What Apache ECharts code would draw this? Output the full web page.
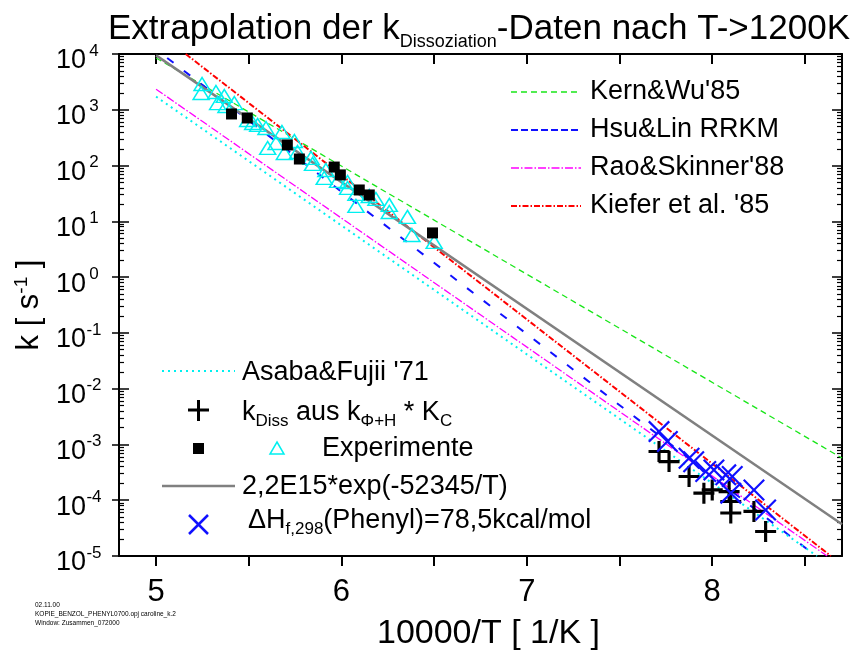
<!DOCTYPE html>
<html>
<head>
<meta charset="utf-8">
<script src="https://cdn.jsdelivr.net/npm/echarts@6/dist/echarts.min.js"></script>
<style>
  html, body { margin: 0; padding: 0; background: #fff; }
  #chart { width: 860px; height: 657px; }
</style>
</head>
<body>
<div id="chart"></div>
<script>
// Axis ticks and labels
const xTickValues = [5, 5.5, 6, 6.5, 7, 7.5, 8, 8.5];
const xLabelValues = [5, 6, 7, 8];
const yDecades = [-5, -4, -3, -2, -1, 0, 1, 2, 3, 4];

// Arrhenius lines (10000/T, k in s^-1), straight on the log axis
const kernWu85 = [[5.0, 8500], [8.7, 5.7e-4]];
const hsuLinRRKM = [[5.06, 8500], [8.56, 1e-5]];
const raoSkinner88 = [[5.0, 2340], [8.62, 1e-5]];
const kiefer85 = [[5.16, 1e4], [8.64, 1e-5]];
const asabaFujii71 = [[5.0, 1720], [8.565, 1e-5]];
const fitLine = [[5.0, 9460], [8.7, 3.7e-5]];

// Experiments: open triangles
const expTriangles = [
  [5.248, 2900], [5.243, 2000], [5.323, 2080], [5.368, 1770], [5.332, 1320],
  [5.377, 1170], [5.422, 1320], [5.494, 656], [5.521, 579], [5.548, 535],
  [5.593, 472], [5.679, 400], [5.602, 207], [5.647, 254], [5.692, 168],
  [5.746, 276], [5.763, 175], [5.836, 137], [5.844, 107], [5.916, 83.4],
  [5.907, 60], [5.979, 53], [6.033, 50.8], [6.033, 39.7], [6.078, 31],
  [6.078, 18.9], [6.150, 28.5], [6.186, 25.2], [6.258, 19.7], [6.258, 14.7],
  [6.356, 12.0], [6.380, 5.7], [6.500, 4.28]
];
// Experiments: filled squares
const expSquares = [
  [5.407, 841], [5.492, 713], [5.708, 234], [5.773, 131], [5.961, 94],
  [5.994, 68], [6.096, 36.5], [6.150, 29.7], [6.491, 6.2]
];
// k_Diss from k_(Phi+H) * K_C
const kDissPlus = [
  [7.713, 7.46e-4], [7.767, 4.93e-4], [7.875, 2.66e-4], [7.955, 1.34e-4],
  [8.000, 1.53e-4], [8.091, 1.43e-4], [8.100, 9.5e-5], [8.100, 5.9e-5],
  [8.225, 6.3e-5], [8.288, 2.75e-5]
];
// dHf,298(Phenyl) = 78.5 kcal/mol
const phenylCross = [
  [7.713, 1.70e-3], [7.758, 1.13e-3], [7.875, 5.67e-4], [7.900, 4.9e-4],
  [7.965, 3.27e-4], [8.009, 3.5e-4], [8.073, 2.85e-4], [8.108, 2.66e-4],
  [8.100, 1.34e-4], [8.225, 1.53e-4], [8.288, 6.7e-5]
];

const FONT = '"Liberation Sans", Arial, sans-serif';
const PLUS_PATH = 'path://M0,8.5L8.5,8.5L8.5,0L11.5,0L11.5,8.5L20,8.5L20,11.5L11.5,11.5L11.5,20L8.5,20L8.5,11.5L0,11.5Z';
const CROSS_PATH = 'path://M0,1.4L1.4,0L10,8.6L18.6,0L20,1.4L11.4,10L20,18.6L18.6,20L10,11.4L1.4,20L0,18.6L8.6,10Z';

const minorValues = [];
yDecades.slice(0, -1).forEach(function (e) {
  for (let m = 2; m <= 9; m++) minorValues.push(m * Math.pow(10, e));
});
const decadeValues = yDecades.map(function (e) { return Math.pow(10, e); });

function logAxis(extra) {
  return Object.assign({
    type: 'log', logBase: 10, min: 1e-5, max: 1e4,
    splitLine: { show: false },
    axisLine: { show: false },
    axisLabel: { show: false },
    axisTick: { show: false }
  }, extra);
}

const lineColor = '#000';

const chart = echarts.init(document.getElementById('chart'), null, { renderer: 'canvas' });

function lineSeries(name, data, color, width, dash) {
  return {
    name: name, type: 'line', data: data, xAxisIndex: 0, yAxisIndex: 0,
    symbol: 'none', silent: true, clip: true, z: 2,
    lineStyle: { color: color, width: width, type: dash || 'solid', opacity: 1 }
  };
}

// Legend graphics
const legendTop = [
  { text: "Kern&Wu'85", color: '#19e619', dash: [6, 4], y: 92, w: 1.3 },
  { text: 'Hsu&Lin RRKM', color: '#1010ff', dash: [7, 3], y: 130, w: 2 },
  { text: "Rao&Skinner'88", color: '#ff00ff', dash: [8, 2, 1.5, 2], y: 168, w: 1.3 },
  { text: "Kiefer et al. '85", color: '#ff0000', dash: [6, 2, 1.5, 2], y: 206, w: 2 }
];

const graphics = [];
legendTop.forEach(function (e) {
  graphics.push({
    type: 'line', shape: { x1: 511, y1: e.y, x2: 581, y2: e.y },
    style: { stroke: e.color, lineWidth: e.w, lineDash: e.dash }, z: 10
  });
  graphics.push({
    type: 'text', x: 590, y: e.y,
    style: { text: e.text, font: '27px ' + FONT, fill: '#000', textVerticalAlign: 'middle' }, z: 10
  });
});

const subRich = {
  sub: { fontSize: 17, fontFamily: FONT, padding: [16, 0, 0, 0], fill: '#000' }
};

// Bottom-left legend
graphics.push(
  { type: 'line', shape: { x1: 162, y1: 371, x2: 235, y2: 371 },
    style: { stroke: '#00f0f0', lineWidth: 2, lineDash: [2, 4] }, z: 10 },
  { type: 'text', x: 242, y: 373,
    style: { text: "Asaba&Fujii '71", font: '27px ' + FONT, fill: '#000', textVerticalAlign: 'middle' }, z: 10 },
  // plus marker
  { type: 'rect', shape: { x: 188, y: 408.5, width: 21, height: 3 }, style: { fill: '#000' }, z: 10 },
  { type: 'rect', shape: { x: 197, y: 400, width: 3, height: 21 }, style: { fill: '#000' }, z: 10 },
  { type: 'text', x: 242, y: 413,
    style: {
      text: 'k{sub|Diss} aus k{sub|Φ+H} * K{sub|C}',
      font: '27px ' + FONT, fill: '#000', textVerticalAlign: 'middle', rich: subRich
    }, z: 10 },
  // square + triangle markers
  { type: 'rect', shape: { x: 193, y: 443, width: 11, height: 11 }, style: { fill: '#000' }, z: 10 },
  { type: 'polygon', shape: { points: [[277, 442], [284, 454], [270, 454]] },
    style: { fill: 'none', stroke: '#00f0f0', lineWidth: 1.5 }, z: 10 },
  { type: 'text', x: 322, y: 449,
    style: { text: 'Experimente', font: '27px ' + FONT, fill: '#000', textVerticalAlign: 'middle' }, z: 10 },
  { type: 'line', shape: { x1: 162, y1: 486, x2: 235, y2: 486 },
    style: { stroke: '#808080', lineWidth: 2.5 }, z: 10 },
  { type: 'text', x: 242, y: 487,
    style: { text: '2,2E15*exp(-52345/T)', font: '27px ' + FONT, fill: '#000', textVerticalAlign: 'middle' }, z: 10 },
  // cross marker
  { type: 'line', shape: { x1: 189, y1: 515, x2: 208, y2: 534 }, style: { stroke: '#1010ff', lineWidth: 2.5 }, z: 10 },
  { type: 'line', shape: { x1: 208, y1: 515, x2: 189, y2: 534 }, style: { stroke: '#1010ff', lineWidth: 2.5 }, z: 10 },
  { type: 'text', x: 248, y: 521,
    style: {
      text: 'ΔH{sub|f,298}(Phenyl)=78,5kcal/mol',
      font: '27px ' + FONT, fill: '#000', textVerticalAlign: 'middle', rich: subRich
    }, z: 10 },
  // file stamp
  { type: 'text', x: 35, y: 602,
    style: { text: '02.11.00', font: '6.5px ' + FONT, fill: '#000' }, z: 10 },
  { type: 'text', x: 35, y: 611,
    style: { text: 'KOPIE_BENZOL_PHENYL0700.opj caroline_k.2', font: '6.5px ' + FONT, fill: '#000' }, z: 10 },
  { type: 'text', x: 35, y: 620,
    style: { text: 'Window: Zusammen_072000', font: '6.5px ' + FONT, fill: '#000' }, z: 10 }
);

const option = {
  backgroundColor: '#fff',
  animation: false,
  title: {
    text: 'Extrapolation der k{sub|Dissoziation}-Daten nach T->1200K',
    left: 103, top: 2,
    textStyle: {
      fontFamily: FONT, fontSize: 35, fontWeight: 'normal', color: '#000',
      rich: {
        sub: { fontFamily: FONT, fontSize: 18, color: '#000', padding: [26, 0, 0, 0] }
      }
    }
  },
  grid: { left: 119, right: 18, top: 54, bottom: 101, containLabel: false, outerBoundsMode: 'none' },
  xAxis: [
    {
      type: 'value', min: 4.8, max: 8.7, position: 'bottom',
      splitLine: { show: false },
      axisLine: { show: true, onZero: false, lineStyle: { color: lineColor, width: 2 } },
      axisTick: { show: true, inside: false, length: 10, customValues: xTickValues, lineStyle: { color: lineColor, width: 2 } },
      axisLabel: {
        show: true, customValues: xLabelValues, margin: 21, color: '#000',
        fontFamily: FONT, fontSize: 31,
        formatter: function (v) { return String(v); }
      },
      name: '10000/T [ 1/K ]', nameLocation: 'middle', nameGap: 61,
      nameTextStyle: { fontFamily: FONT, fontSize: 34, color: '#000', padding: [0, 0, 0, 16] }
    },
    {
      type: 'value', min: 4.8, max: 8.7, position: 'top',
      splitLine: { show: false },
      axisLine: { show: true, onZero: false, lineStyle: { color: lineColor, width: 2 } },
      axisTick: { show: true, inside: true, length: 10, customValues: xTickValues, lineStyle: { color: lineColor, width: 2 } },
      axisLabel: { show: false }
    }
  ],
  yAxis: [
    logAxis({
      position: 'left',
      axisLine: { show: true, onZero: false, lineStyle: { color: lineColor, width: 2 } },
      axisTick: { show: true, inside: false, length: 7, customValues: decadeValues, lineStyle: { color: lineColor, width: 1.5 } },
      axisLabel: {
        show: true, customValues: decadeValues, margin: 17, color: '#000',
        formatter: function (v) {
          const e = Math.round(Math.log10(v));
          return '{b|10}{s|' + e + '}';
        },
        rich: {
          b: { fontFamily: FONT, fontSize: 27, color: '#000', padding: [14, 0, 0, 0] },
          s: { fontFamily: FONT, fontSize: 17, color: '#000', width: 16, align: 'left', padding: [0, 0, 6, 0] }
        }
      },
      name: 'k [ s{s|-1} ]', nameLocation: 'middle', nameGap: 64, nameRotate: 90,
      nameTextStyle: {
        fontFamily: FONT, fontSize: 31, color: '#000',
        rich: { s: { fontFamily: FONT, fontSize: 19, color: '#000', padding: [0, 0, 16, 0] } }
      }
    }),
    logAxis({
      position: 'left',
      axisTick: { show: true, inside: true, length: 10, customValues: decadeValues, lineStyle: { color: lineColor, width: 1.5 } }
    }),
    logAxis({
      position: 'left',
      axisTick: { show: true, inside: true, length: 5, customValues: minorValues, lineStyle: { color: lineColor, width: 1.2 } }
    }),
    logAxis({
      position: 'right',
      axisLine: { show: true, onZero: false, lineStyle: { color: lineColor, width: 2 } },
      axisTick: { show: true, inside: true, length: 10, customValues: decadeValues, lineStyle: { color: lineColor, width: 1.5 } }
    }),
    logAxis({
      position: 'right',
      axisTick: { show: true, inside: true, length: 5, customValues: minorValues, lineStyle: { color: lineColor, width: 1.2 } }
    })
  ],
  series: [
    lineSeries("Kern&Wu'85", kernWu85, '#19e619', 1.3, [6, 4]),
    lineSeries('Hsu&Lin RRKM', hsuLinRRKM, '#1010ff', 2, [8, 13]),
    lineSeries("Rao&Skinner'88", raoSkinner88, '#ff00ff', 1.3, [8, 2, 1.5, 2]),
    lineSeries("Kiefer et al. '85", kiefer85, '#ff0000', 2, [6, 2, 1.5, 2]),
    lineSeries("Asaba&Fujii '71", asabaFujii71, '#00f0f0', 2, [2, 4]),
    lineSeries('2,2E15*exp(-52345/T)', fitLine, '#808080', 2.5),
    {
      name: 'Experimente (Dreiecke)', type: 'scatter', data: expTriangles, z: 3,
      symbol: 'triangle', symbolSize: [16, 13], silent: true,
      itemStyle: { color: 'rgba(0,0,0,0)', borderColor: '#00f0f0', borderWidth: 1.5, opacity: 1 }
    },
    {
      name: 'Experimente (Quadrate)', type: 'scatter', data: expSquares, z: 4,
      symbol: 'rect', symbolSize: 11, silent: true,
      itemStyle: { color: '#000', opacity: 1 }
    },
    {
      name: 'kDiss', type: 'scatter', data: kDissPlus, z: 5,
      symbol: PLUS_PATH, symbolSize: 21, symbolKeepAspect: true, silent: true,
      itemStyle: { color: '#000', opacity: 1 }
    },
    {
      name: 'Phenyl', type: 'scatter', data: phenylCross, z: 6,
      symbol: CROSS_PATH, symbolSize: 22, symbolKeepAspect: true, silent: true,
      itemStyle: { color: '#1010ff', opacity: 1 }
    }
  ],
  graphic: graphics
};

chart.setOption(option);
</script>
</body>
</html>
